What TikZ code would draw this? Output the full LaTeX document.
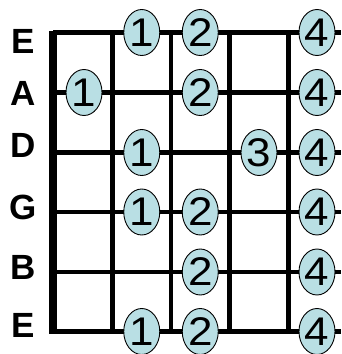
\documentclass[tikz,border=0pt]{standalone}
\usepackage{fontspec}
\setmainfont{Liberation Sans}
\usetikzlibrary{shapes.geometric}
\definecolor{fingerfill}{RGB}{185,223,228}
\begin{document}
\begin{tikzpicture}[x=1pt,y=-1pt,
  stringline/.style={line width=4.2pt},
  fretline/.style={line width=4.2pt},
  nutline/.style={line width=8.5pt},
  finger/.style={ellipse, draw=black, line width=0.9pt, fill=fingerfill,
    minimum width=36pt, minimum height=46pt, inner sep=0pt,
    font=\fontsize{40}{40}\selectfont},
  strlabel/.style={font=\fontsize{35}{35}\selectfont\bfseries, inner sep=0pt}]
\useasboundingbox (0,0) rectangle (341,354);
% strings
\foreach \i/\y in {1/32.5,2/92.5,3/152.5,4/212,5/272,6/331.5}{
  \coordinate (s\i L) at (53,\y);
  \coordinate (s\i R) at (341,\y);
  \draw[stringline] (s\i L) -- (s\i R);
}
% frets
\foreach \j/\x in {1/112.5,2/171,3/229.5,4/288.5}{
  \coordinate (f\j T) at (\x,32.5);
  \coordinate (f\j B) at (\x,331.5);
  \draw[fretline] (f\j T) -- (f\j B);
}
% nut
\coordinate (nutT) at (53,30.5);
\coordinate (nutB) at (53,333.5);
\draw[nutline] (nutT) -- (nutB);
% string labels
\node[strlabel] (l1) at (23,41) {E};
\node[strlabel] (l2) at (23,93) {A};
\node[strlabel] (l3) at (23,145) {D};
\node[strlabel] (l4) at (23,207) {G};
\node[strlabel] (l5) at (23,267) {B};
\node[strlabel] (l6) at (23,325) {E};
% fingers
\newcommand{\dg}[1]{\scalebox{1.1}[1]{#1}}
\node[finger] (e1a) at (141.75,32.5) {\dg{1}};
\node[finger] (e1b) at (200.25,32.5) {\dg{2}};
\node[finger] (e1c) at (317,32.5) {\dg{4}};
\node[finger] (a1) at (84,92.5) {\dg{1}};
\node[finger] (a2) at (200.25,92.5) {\dg{2}};
\node[finger] (a4) at (317,92.5) {\dg{4}};
\node[finger] (d1) at (141.75,152.5) {\dg{1}};
\node[finger] (d3) at (259,152.5) {\dg{3}};
\node[finger] (d4) at (317,152.5) {\dg{4}};
\node[finger] (g1) at (141.75,212) {\dg{1}};
\node[finger] (g2) at (200.25,212) {\dg{2}};
\node[finger] (g4) at (317,212) {\dg{4}};
\node[finger] (b2) at (200.25,272) {\dg{2}};
\node[finger] (b4) at (317,272) {\dg{4}};
\node[finger] (e6a) at (141.75,331.5) {\dg{1}};
\node[finger] (e6b) at (200.25,331.5) {\dg{2}};
\node[finger] (e6c) at (317,331.5) {\dg{4}};
\end{tikzpicture}
\end{document}
